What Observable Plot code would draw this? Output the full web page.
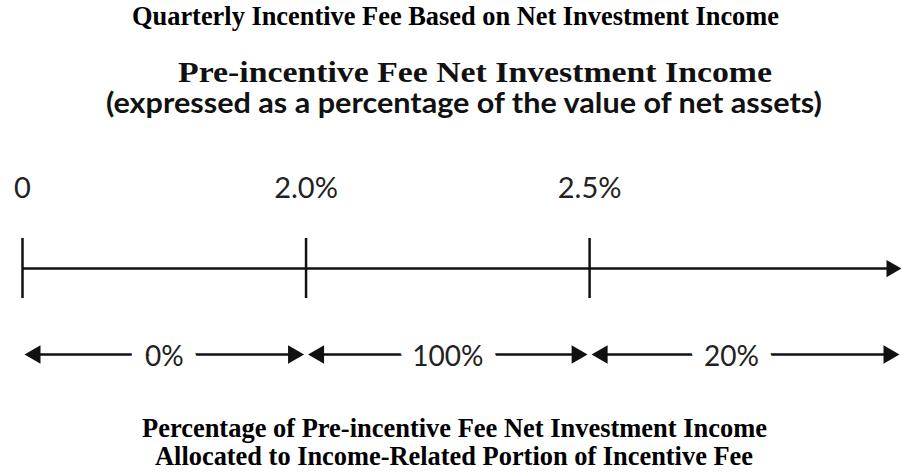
<!DOCTYPE html>
<html>
<head>
<meta charset="utf-8">
<script src="https://cdn.jsdelivr.net/npm/d3@7"></script>
<script src="https://cdn.jsdelivr.net/npm/@observablehq/plot@0.6"></script>
<style>
  html, body { margin: 0; padding: 0; background: #fff; }
  #chart { position: relative; width: 901px; height: 473px; overflow: hidden; background: #fff; }
  #chart .t { position: absolute; white-space: nowrap; line-height: 1; left: 0; top: 0; transform-origin: 0 0; }
  #chart svg { position: absolute; left: 0; top: 150px; }
</style>
</head>
<body>
<div id="chart"></div>
<script>
// ---- data ----
const title = "Quarterly Incentive Fee Based on Net Investment Income";
const axisTitle = "Pre-incentive Fee Net Investment Income";
const axisSubtitle = "(expressed as a percentage of the value of net assets)";
const breakpoints = [0, 2.0, 2.5];                 // % of net assets
const breakpointLabels = ["0", "2.0%", "2.5%"];
const allocationLabels = ["0%", "100%", "20%"];    // share allocated to incentive fee
const captionLines = [
  "Percentage of Pre-incentive Fee Net Investment Income",
  "Allocated to Income-Related Portion of Incentive Fee"
];

// ---- tables built from the arrays ----
const AXIS_END = 3.1; // open-ended axis beyond last breakpoint (index units)
const breaks = breakpoints.map((v, i) => ({pos: i, value: v, label: breakpointLabels[i]}));
const segs = allocationLabels.map((s, i) => ({
  start: i,
  end: i + 1 < breakpoints.length ? i + 1 : AXIS_END,
  mid: i + 0.5,
  label: s
}));

// ---- layout ----
const container = document.getElementById("chart");
const rows = {labels: 38, axis: 118, tickTop: 88, tickBottom: 148, alloc: 204};
const ink = "#111";

const rightHead = {draw(ctx, size) {
  const r = Math.sqrt(size / Math.PI), L = 2 * r, W = 2.3 * r;
  ctx.moveTo(0, 0); ctx.lineTo(-L, -W / 2); ctx.lineTo(-L, W / 2); ctx.closePath();
}};
const leftHead = {draw(ctx, size) {
  const r = Math.sqrt(size / Math.PI), L = 2 * r, W = 2.3 * r;
  ctx.moveTo(0, 0); ctx.lineTo(L, -W / 2); ctx.lineTo(L, W / 2); ctx.closePath();
}};

const svg = Plot.plot({
  width: 901,
  height: 230,
  marginTop: 0, marginBottom: 0, marginLeft: 22, marginRight: 0,
  x: {domain: [0, AXIS_END], axis: null},
  y: {domain: [0, 230], range: [0, 230], axis: null},
  style: {background: "transparent", overflow: "visible"},
  marks: [
    Plot.ruleY([rows.axis], {x1: 0, x2: AXIS_END, stroke: ink, strokeWidth: 2.5, insetRight: 8}),
    Plot.ruleX(breaks, {x: "pos", y1: rows.tickTop, y2: rows.tickBottom, stroke: ink, strokeWidth: 2.5}),
    Plot.dot([AXIS_END], {x: d => d, y: rows.axis, symbol: rightHead, r: 7.5, fill: ink, stroke: "none"}),
    Plot.text(breaks, {x: "pos", y: rows.labels, text: "label", fontSize: 29, fontFamily: "Lato", fill: "#222"}),
    Plot.ruleY(segs, {y: rows.alloc, x1: "start", x2: "end", insetLeft: 10, insetRight: 10, stroke: ink, strokeWidth: 2.5}),
    Plot.text(segs, {x: "mid", y: rows.alloc, dy: 3, text: "label", fontSize: 28, fontFamily: "Lato",
      fill: "#222", stroke: "white", strokeWidth: 28, strokeLinejoin: "round"}),
    Plot.dot(segs, {x: "start", y: rows.alloc, dx: 2, symbol: leftHead, r: 8, fill: ink, stroke: "none"}),
    Plot.dot(segs, {x: "end", y: rows.alloc, dx: -2, symbol: rightHead, r: 8, fill: ink, stroke: "none"})
  ]
});
container.appendChild(svg);

function addText(str, o) {
  const d = document.createElement("div");
  d.className = "t";
  d.style.fontFamily = o.font;
  d.style.fontSize = o.size + "px";
  d.style.fontWeight = o.weight;
  d.style.color = o.color;
  d.textContent = str;
  const m = document.createElement("span");
  m.style.cssText = "display:inline-block;width:0;height:0;vertical-align:baseline;";
  d.appendChild(m);
  container.appendChild(d);
  const w = d.getBoundingClientRect().width;
  const base = m.offsetTop;
  const sx = (o.right - o.left) / w;
  d.style.left = o.left + "px";
  d.style.top = (o.baseline - base) + "px";
  d.style.transform = `scaleX(${sx})`;
}

const serif = "'Liberation Serif', 'Times New Roman', serif";
addText(title, {font: serif, size: 26.4, weight: 700, color: "#000", left: 132, right: 779, baseline: 25});
addText(axisTitle, {font: serif, size: 30, weight: 700, color: "#111", left: 178, right: 772, baseline: 82});
addText(axisSubtitle, {font: "Lato, 'Open Sans', sans-serif", size: 28, weight: 700, color: "#111", left: 106, right: 822, baseline: 113});
addText(captionLines[0], {font: serif, size: 26.4, weight: 700, color: "#000", left: 142, right: 767, baseline: 437});
addText(captionLines[1], {font: serif, size: 26.4, weight: 700, color: "#000", left: 155, right: 753, baseline: 465});
</script>
</body>
</html>
